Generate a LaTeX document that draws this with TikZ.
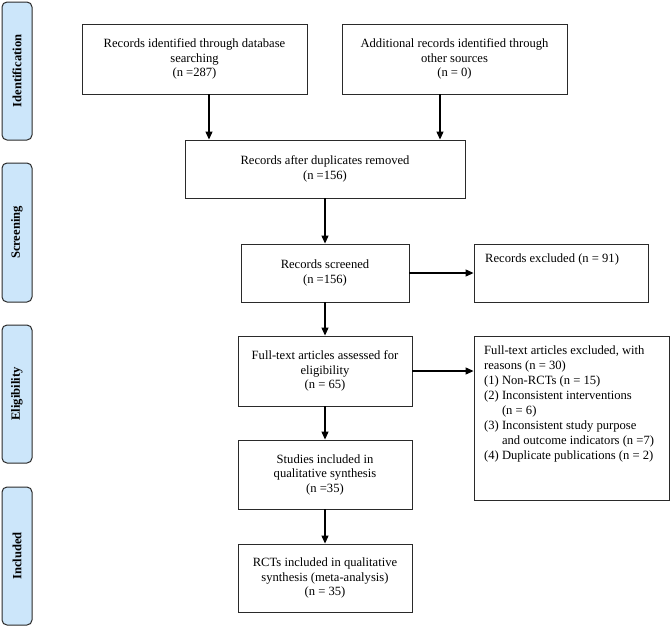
\documentclass[tikz,border=0pt]{standalone}
\usepackage{fontspec}
\setmainfont{Liberation Serif}
\usetikzlibrary{arrows.meta,calc}
\definecolor{sidefill}{HTML}{CCE6FA}
\definecolor{linec}{HTML}{2A2A2A}
\begin{document}
\begin{tikzpicture}[x=1pt,y=-1pt,
  every node/.style={font=\fontsize{12.6}{14.5}\selectfont},
  box/.style={draw=linec,line width=0.9pt,rectangle,inner sep=0pt,align=center},
  side/.style={draw=linec,line width=1pt,rounded corners=5pt,fill=sidefill,inner sep=0pt,
    minimum width=30pt,minimum height=138pt},
  sidetxt/.style={rotate=90,font=\fontsize{12.6}{14.5}\selectfont\bfseries},
  arr/.style={line width=1.1pt,draw=black,-{Triangle[length=8pt,width=7pt]}},
  txt/.style={inner sep=0pt,align=left,anchor=north west}]
\useasboundingbox (0,0) rectangle (671,627);
% side labels
\node[side] (s1) at (17,71) {};
\node[sidetxt] at (s1.center) {Identification};
\node[side,minimum height=139pt] (s2) at (17,232.5) {};
\node[sidetxt] at (s2.center) {Screening};
\node[side] (s3) at (17,394) {};
\node[sidetxt] at (s3.center) {Eligibility};
\node[side] (s4) at (17,556) {};
\node[sidetxt] at (s4.center) {Included};
% boxes
\node[box,minimum width=225pt,minimum height=70pt] (b1) at (194.5,59)
  {Records identified through database\\searching\\(n =287)};
\node[box,minimum width=225pt,minimum height=70pt] (b2) at (454.5,59)
  {Additional records identified through\\other sources\\(n = 0)};
\node[box,minimum width=280pt,minimum height=58pt] (b3) at (325,169)
  {Records after duplicates removed\\(n =156)};
\node[box,minimum width=168pt,minimum height=58pt] (b4) at (325,273)
  {Records screened\\(n =156)};
\node[box,minimum width=174pt,minimum height=58pt] (e1) at (561,273) {};
\node[txt] (e1t) at (485,254) {Records excluded (n = 91)};
\node[box,minimum width=174pt,minimum height=70pt] (b5) at (325,371)
  {Full-text articles assessed for\\eligibility\\(n = 65)};
\node[box,minimum width=195pt,minimum height=164pt] (e2) at (571.5,418) {};
\node[txt,font=\fontsize{12.6}{15}\selectfont] (e2t) at (484,346) {Full-text articles excluded, with\\
reasons (n = 30)\\
(1) Non-RCTs (n = 15)\\
(2) Inconsistent interventions\\
\phantom{(2) }(n = 6)\\
(3) Inconsistent study purpose\\
\phantom{(3) }and outcome indicators (n =7)\\
(4) Duplicate publications (n = 2)};
\node[box,minimum width=174pt,minimum height=69pt] (b6) at (325,474.5)
  {Studies included in\\qualitative synthesis\\(n =35)};
\node[box,minimum width=174pt,minimum height=68pt] (b7) at (325,578)
  {RCTs included in qualitative\\synthesis (meta-analysis)\\(n = 35)};
% arrows
\coordinate (xa) at (209,0);
\coordinate (xb) at (440,0);
\draw[arr] (b1.south -| xa) -- (b3.north -| xa);
\draw[arr] (b2.south -| xb) -- (b3.north -| xb);
\draw[arr] (b3) -- (b4);
\draw[arr] (b4) -- (e1);
\draw[arr] (b4) -- (b5);
\draw[arr] (b5) -- (b5 -| e2.west);
\draw[arr] (b5) -- (b6);
\draw[arr] (b6) -- (b7);
\end{tikzpicture}
\end{document}
